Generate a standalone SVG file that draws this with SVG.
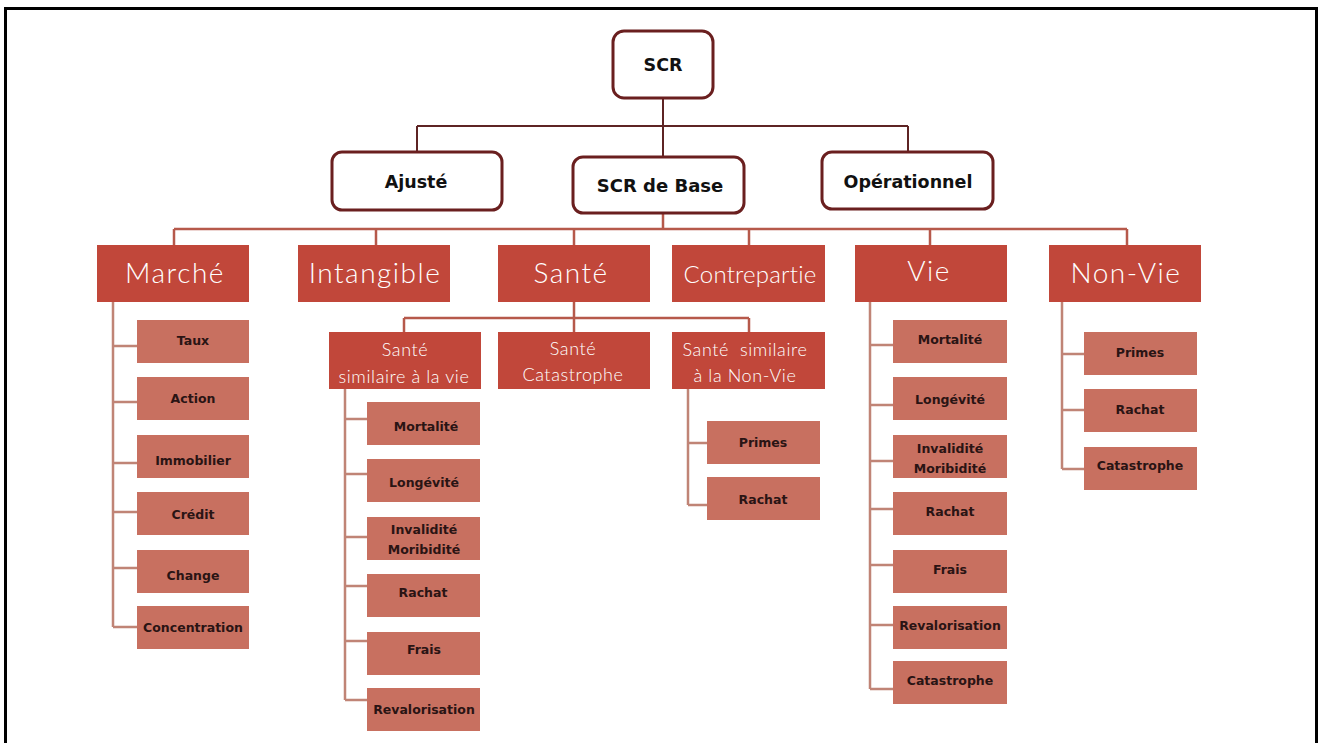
<svg xmlns="http://www.w3.org/2000/svg" width="1320" height="743" viewBox="0 0 1320 743">
<style>
.top rect{fill:#fff;stroke:#6a1f1f;stroke-width:3}
.top text{font-family:"DejaVu Sans","Open Sans",sans-serif;font-weight:700;font-size:17.5px;fill:#111;text-anchor:middle}
.l2 rect{fill:#c1473a}
.l2 text{font-family:Lato,"Open Sans","Liberation Sans",sans-serif;font-weight:300;font-size:28px;letter-spacing:1.5px;fill:#fff;text-anchor:middle}
.l3 rect{fill:#c1473a}
.l3 text{font-family:Lato,"Open Sans","Liberation Sans",sans-serif;font-weight:300;font-size:18px;letter-spacing:0.6px;fill:#fff;text-anchor:middle}
.leaf rect{fill:#c87060}
.leaf text{font-family:"DejaVu Sans","Open Sans",sans-serif;font-weight:700;font-size:12.5px;fill:#2a1414;text-anchor:middle}
.c1{fill:none;stroke:#5e2424;stroke-width:2}
.c2{fill:none;stroke:#b6594b;stroke-width:2.5}
.c3{fill:none;stroke:#c08476;stroke-width:2.5}
</style>
<rect x="0" y="0" width="1320" height="743" fill="#fff"/>
<path d="M5.5 743 V8.5 H1316.5 V743" fill="none" stroke="#000" stroke-width="3"/>
<g id="connectors">
<path class="c1" d="M663 98 V126 M417 126 H908 M417 126 V152 M663 126 V157 M908 126 V152"/>
<path class="c2" d="M663 213 V229 M174 229 H1127 M174 229 V245 M376 229 V245 M574 229 V245 M749 229 V245 M930 229 V245 M1127 229 V245"/>
<path class="c2" d="M574 302 V318 M404 318 H749 M404 318 V332 M574 318 V332 M749 318 V332"/>
<path class="c3" d="M113 302 V627 M113 346 H137 M113 402 H137 M113 463 H137 M113 512 H137 M113 568 H137 M113 627 H137"/>
<path class="c3" d="M345 389 V700 M345 419 H367 M345 474 H367 M345 537 H367 M345 586 H367 M345 641 H367 M345 700 H367"/>
<path class="c3" d="M688 389 V505 M688 443 H707 M688 505 H707"/>
<path class="c3" d="M870 302 V689 M870 345 H893 M870 405 H893 M870 461 H893 M870 509 H893 M870 565 H893 M870 625 H893 M870 689 H893"/>
<path class="c3" d="M1062 302 V469 M1062 354 H1084 M1062 410 H1084 M1062 469 H1084"/>
</g>
<g id="scr" class="top"><rect x="613" y="31" width="100" height="67" rx="11"/><text x="663" y="71">SCR</text></g>
<g id="ajuste" class="top"><rect x="332" y="152" width="170" height="58" rx="10"/><text x="416" y="188">Ajusté</text></g>
<g id="scr-base" class="top"><rect x="573" y="157" width="171" height="56" rx="10"/><text x="660" y="192" style="font-size:18px">SCR de Base</text></g>
<g id="operationnel" class="top"><rect x="822" y="152" width="171" height="57" rx="10"/><text x="908" y="188">Opérationnel</text></g>

<g id="marche" class="l2"><rect x="97" y="245" width="152" height="57"/><text x="175" y="283">Marché</text></g>
<g id="intangible" class="l2"><rect x="298" y="245" width="152" height="57"/><text x="375" y="283">Intangible</text></g>
<g id="sante" class="l2"><rect x="498" y="245" width="152" height="57"/><text x="571" y="283">Santé</text></g>
<g id="contrepartie" class="l2"><rect x="672" y="245" width="153" height="57"/><text x="750" y="283" style="font-size:24px;letter-spacing:0.2px">Contrepartie</text></g>
<g id="vie" class="l2"><rect x="855" y="245" width="152" height="57"/><text x="929" y="281">Vie</text></g>
<g id="non-vie" class="l2"><rect x="1049" y="245" width="152" height="57"/><text x="1126" y="283">Non-Vie</text></g>

<g id="sante-vie" class="l3"><rect x="329" y="332" width="152" height="57"/><text x="405" y="356">Santé</text><text x="404" y="383">similaire à la vie</text></g>
<g id="sante-cat" class="l3"><rect x="498" y="332" width="152" height="57"/><text x="573" y="355">Santé</text><text x="573" y="381">Catastrophe</text></g>
<g id="sante-nonvie" class="l3"><rect x="672" y="332" width="153" height="57"/><text x="745" y="356" xml:space="preserve">Santé  similaire</text><text x="745" y="382">à la Non-Vie</text></g>

<g id="m-taux" class="leaf"><rect x="137" y="320" width="112" height="43"/><text x="193" y="345">Taux</text></g>
<g id="m-action" class="leaf"><rect x="137" y="377" width="112" height="43"/><text x="193" y="403">Action</text></g>
<g id="m-immo" class="leaf"><rect x="137" y="435" width="112" height="43"/><text x="193" y="465">Immobilier</text></g>
<g id="m-credit" class="leaf"><rect x="137" y="492" width="112" height="43"/><text x="193" y="519">Crédit</text></g>
<g id="m-change" class="leaf"><rect x="137" y="550" width="112" height="43"/><text x="193" y="580">Change</text></g>
<g id="m-conc" class="leaf"><rect x="137" y="606" width="112" height="43"/><text x="193" y="632">Concentration</text></g>

<g id="sv-mort" class="leaf"><rect x="367" y="402" width="113" height="43"/><text x="426" y="431">Mortalité</text></g>
<g id="sv-long" class="leaf"><rect x="367" y="459" width="113" height="43"/><text x="424" y="487">Longévité</text></g>
<g id="sv-inv" class="leaf"><rect x="367" y="517" width="113" height="43"/><text x="424" y="534">Invalidité</text><text x="424" y="554">Moribidité</text></g>
<g id="sv-rachat" class="leaf"><rect x="367" y="574" width="113" height="43"/><text x="423" y="597">Rachat</text></g>
<g id="sv-frais" class="leaf"><rect x="367" y="632" width="113" height="43"/><text x="424" y="654">Frais</text></g>
<g id="sv-reval" class="leaf"><rect x="367" y="688" width="113" height="43"/><text x="424" y="714">Revalorisation</text></g>

<g id="snv-primes" class="leaf"><rect x="707" y="421" width="113" height="43"/><text x="763" y="447">Primes</text></g>
<g id="snv-rachat" class="leaf"><rect x="707" y="477" width="113" height="43"/><text x="763" y="504">Rachat</text></g>

<g id="v-mort" class="leaf"><rect x="893" y="320" width="114" height="43"/><text x="950" y="344">Mortalité</text></g>
<g id="v-long" class="leaf"><rect x="893" y="377" width="114" height="43"/><text x="950" y="404">Longévité</text></g>
<g id="v-inv" class="leaf"><rect x="893" y="435" width="114" height="43"/><text x="950" y="453">Invalidité</text><text x="950" y="473">Moribidité</text></g>
<g id="v-rachat" class="leaf"><rect x="893" y="492" width="114" height="43"/><text x="950" y="516">Rachat</text></g>
<g id="v-frais" class="leaf"><rect x="893" y="550" width="114" height="43"/><text x="950" y="574">Frais</text></g>
<g id="v-reval" class="leaf"><rect x="893" y="606" width="114" height="43"/><text x="950" y="630">Revalorisation</text></g>
<g id="v-cat" class="leaf"><rect x="893" y="661" width="114" height="43"/><text x="950" y="685">Catastrophe</text></g>

<g id="nv-primes" class="leaf"><rect x="1084" y="332" width="113" height="43"/><text x="1140" y="357">Primes</text></g>
<g id="nv-rachat" class="leaf"><rect x="1084" y="389" width="113" height="43"/><text x="1140" y="414">Rachat</text></g>
<g id="nv-cat" class="leaf"><rect x="1084" y="447" width="113" height="43"/><text x="1140" y="470">Catastrophe</text></g>
</svg>
